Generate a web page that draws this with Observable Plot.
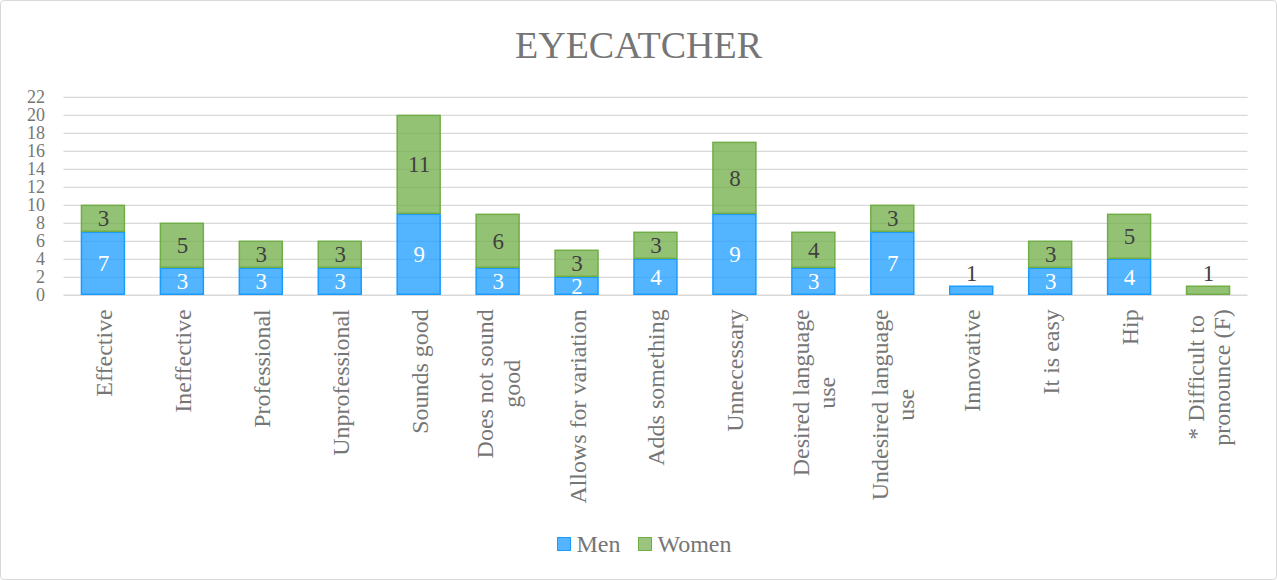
<!DOCTYPE html>
<html>
<head>
<meta charset="utf-8">
<script src="https://cdn.jsdelivr.net/npm/d3@7"></script>
<script src="https://cdn.jsdelivr.net/npm/@observablehq/plot@0.6"></script>
<style>
  html, body { margin: 0; padding: 0; background: #fff; }
  #wrap { position: relative; width: 1275px; height: 578px; border: 1px solid #d9d9d9; border-radius: 4px; overflow: hidden; font-family: "Liberation Serif", "Times New Roman", serif; color: #767676; }
  #title { position: absolute; left: 0; top: 23px; width: 100%; text-align: center; font-size: 38px; line-height: 42px; }
  #chart { position: absolute; left: -1px; top: -1px; }
  #legend { position: absolute; top: 528px; left: 6px; width: 100%; display: flex; justify-content: center; font-size: 24px; line-height: 30px; align-items: center; }
  .item { display: flex; align-items: center; margin: 0 9px; }
  .sw { width: 12px; height: 12px; margin-right: 5px; border: 1px solid; }
</style>
</head>
<body>
<div id="wrap">
  <div id="chart"></div>
  <div id="title">EYECATCHER</div>
  <div id="legend"></div>
</div>
<script>
const categories = ["Effective", "Ineffective", "Professional", "Unprofessional", "Sounds good", "Does not sound good", "Allows for variation", "Adds something", "Unnecessary", "Desired language use", "Undesired language use", "Innovative", "It is easy", "Hip", "* Difficult to pronounce (F)"];
const labelLines = ["Effective", "Ineffective", "Professional", "Unprofessional", "Sounds good", "Does not sound\ngood", "Allows for variation", "Adds something", "Unnecessary", "Desired language\nuse", "Undesired language\nuse", "Innovative", "It is easy", "Hip", "* Difficult to\npronounce (F)"];
const men   = [7, 3, 3, 3, 9, 3, 2, 4, 9, 3, 7, 1, 3, 4, 0];
const women = [3, 5, 3, 3, 11, 6, 3, 3, 8, 4, 3, 0, 3, 5, 1];
const yTicks = [0, 2, 4, 6, 8, 10, 12, 14, 16, 18, 20, 22];
const seriesNames = ["Men", "Women"];
const strokeColors = ["#1a9cff", "#70ad47"];

const rows = [];
categories.forEach((c, i) => {
  rows.push({cat: c, series: "Men", value: men[i], y1: 0, y2: men[i]});
  rows.push({cat: c, series: "Women", value: women[i], y1: men[i], y2: men[i] + women[i]});
});
const bars = rows.filter(d => d.value > 0);
const inside = bars.filter(d => d.value > 1);
const above = bars.filter(d => d.value === 1);
const labelMap = new Map(categories.map((c, i) => [c, labelLines[i]]));

const font = "Liberation Serif, Times New Roman, serif";
const textGray = "#767676";
const chart = Plot.plot({
  width: 1277,
  height: 520,
  marginTop: 97,
  marginBottom: 225,
  marginLeft: 63.5,
  marginRight: 28.5,
  style: {fontFamily: font, fontSize: "18px", color: textGray, background: "transparent"},
  x: {domain: categories, paddingInner: 0.44, paddingOuter: 0.22, label: null},
  y: {domain: [0, 22], label: null},
  color: {domain: seriesNames, range: strokeColors},
  marks: [
    Plot.gridY(yTicks, {stroke: "#d9d9d9", strokeOpacity: 1, strokeWidth: 1.3}),
    Plot.barY(bars, {x: "cat", y1: "y1", y2: "y2", fill: "series", fillOpacity: 0.75, stroke: "series", strokeWidth: 1.5, inset: 0.5}),
    Plot.text(inside, {x: "cat", y: d => (d.y1 + d.y2) / 2, text: d => String(d.value), fill: d => d.series === "Men" ? "#ffffff" : "#404040", fontSize: 23, fontFamily: font}),
    Plot.text(above, {x: "cat", y: "y2", text: d => String(d.value), fill: "#404040", fontSize: 23, fontFamily: font, dy: -13}),
    Plot.axisY(yTicks, {tickSize: 0, tickPadding: 19, fontSize: 18, fill: textGray, fontFamily: font, label: null}),
    Plot.axisX({tickSize: 0, tickPadding: 14, tickRotate: -90, textAnchor: "end", lineAnchor: "middle", fontSize: 24, fill: textGray, fontFamily: font, label: null, tickFormat: c => labelMap.get(c), lineHeight: 1.1})
  ]
});
document.getElementById("chart").appendChild(chart);

// centre the lines of multi-line category labels within their block (block top stays at the axis)
d3.select(chart).selectAll('g[aria-label="x-axis tick label"] text').each(function() {
  const tspans = this.querySelectorAll("tspan");
  if (tspans.length < 2) return;
  let maxLen = 0;
  tspans.forEach(t => { maxLen = Math.max(maxLen, t.getComputedTextLength()); });
  this.setAttribute("text-anchor", "middle");
  tspans.forEach(t => t.setAttribute("x", -maxLen / 2));
});

const legend = document.getElementById("legend");
const fills = ["rgba(26,156,255,0.75)", "rgba(112,173,71,0.7)"];
seriesNames.forEach((s, i) => {
  const it = document.createElement("div");
  it.className = "item";
  const sw = document.createElement("div");
  sw.className = "sw";
  sw.style.background = fills[i];
  sw.style.borderColor = strokeColors[i];
  const t = document.createElement("span");
  t.textContent = s;
  it.appendChild(sw); it.appendChild(t);
  legend.appendChild(it);
});
</script>
</body>
</html>
